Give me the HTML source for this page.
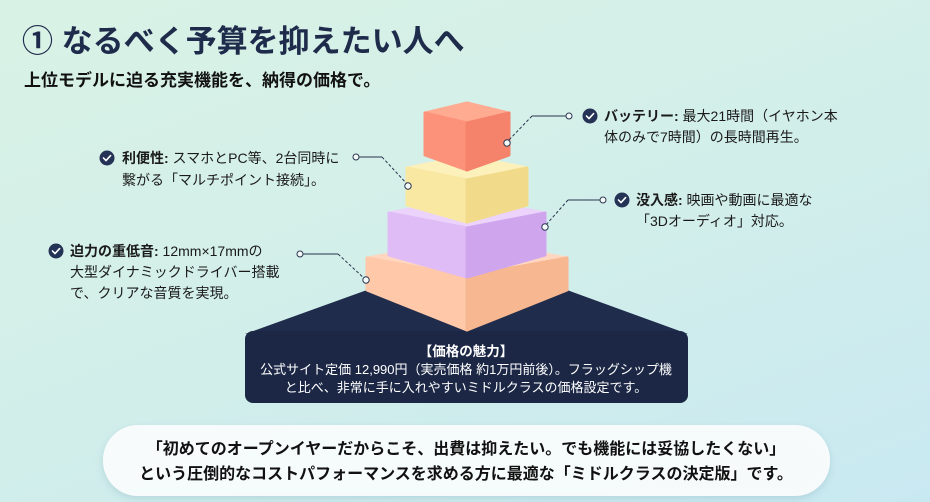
<!DOCTYPE html>
<html><head><meta charset="utf-8"><style>
html,body{margin:0;padding:0;}
body{width:930px;height:502px;overflow:hidden;background:linear-gradient(160deg,#d9f2e6 0%,#d3efe9 45%,#c9e9f2 100%);font-family:"Liberation Sans","Noto Sans CJK JP",sans-serif;}
svg{display:block}
</style></head><body>
<svg width="930" height="502" viewBox="0 0 930 502" xmlns="http://www.w3.org/2000/svg" font-family="Liberation Sans, Noto Sans CJK JP, sans-serif">
<defs>
<filter id="sh" x="-10%" y="-30%" width="120%" height="160%"><feDropShadow dx="0" dy="3" stdDeviation="4" flood-color="#7fa9b8" flood-opacity="0.35"/></filter>
<g id="chk"><circle r="7.5" fill="#243256"/><path d="M-3.5 0 L-1 2.6 L3.6 -2.4" stroke="#fff" stroke-width="1.6" fill="none" stroke-linecap="round" stroke-linejoin="round"/></g>
</defs>
<text x="22" y="52" font-size="31" font-weight="bold" fill="#1e2b4b">① なるべく予算を抑えたい人へ</text>
<text x="24" y="86" font-size="17" font-weight="bold" fill="#111">上位モデルに迫る充実機能を、納得の価格で。</text>

<!-- navy platform -->
<polygon points="245,334 367,290 467,330 567,290 688,334" fill="#1f2c4c"/>
<rect x="245" y="331" width="443" height="72" rx="8" fill="#1b2745"/>
<text x="466" y="356" font-size="13.5" font-weight="bold" fill="#fff" text-anchor="middle">【価格の魅力】</text>
<text x="466" y="374" font-size="13" fill="#fff" text-anchor="middle">公式サイト定価 12,990円（実売価格 約1万円前後）。フラッグシップ機</text>
<text x="466" y="392" font-size="13" fill="#fff" text-anchor="middle">と比べ、非常に手に入れやすいミドルクラスの価格設定です。</text>

<g stroke-linejoin="round" stroke-width="3">
<!-- peach -->
<polygon points="367,258 467,240 567,258 467,276" fill="#ffd7c0" stroke="#ffd7c0"/>
<polygon points="367,258 467,276 467,330 367,290" fill="#ffc8a8" stroke="#ffc8a8"/>
<polygon points="567,258 467,276 467,330 567,290" fill="#f7b790" stroke="#f7b790"/>
<!-- purple -->
<polygon points="389,213 467,198 545,213 467,228" fill="#ecd3fb" stroke="#ecd3fb"/>
<polygon points="389,213 467,228 467,277 389,255" fill="#dfbcf6" stroke="#dfbcf6"/>
<polygon points="545,213 467,228 467,277 545,255" fill="#cfa6ee" stroke="#cfa6ee"/>
<!-- yellow -->
<polygon points="407,168 467,156 527,168 467,180" fill="#fcf0bb" stroke="#fcf0bb"/>
<polygon points="407,168 467,180 467,222 407,205" fill="#f9e8a2" stroke="#f9e8a2"/>
<polygon points="527,168 467,180 467,222 527,205" fill="#f1db8b" stroke="#f1db8b"/>
<!-- coral -->
<polygon points="425,113 467,103 509,113 467,123" fill="#ffab92" stroke="#ffab92"/>
<polygon points="425,113 467,123 467,170 425,155" fill="#fc9279" stroke="#fc9279"/>
<polygon points="509,113 467,123 467,170 509,155" fill="#f5826a" stroke="#f5826a"/>
</g>

<!-- connectors -->
<g stroke="#2a3550" stroke-width="1" fill="none">
<line x1="359" y1="157" x2="382" y2="157"/><line x1="382" y1="157" x2="408" y2="185" stroke-dasharray="3,2"/>
<line x1="303" y1="254" x2="338" y2="254"/><line x1="338" y1="254" x2="366" y2="280" stroke-dasharray="3,2"/>
<line x1="566" y1="116" x2="532" y2="116"/><line x1="532" y1="116" x2="507" y2="142" stroke-dasharray="3,2"/>
<line x1="600" y1="200" x2="568" y2="200"/><line x1="568" y1="200" x2="545" y2="226" stroke-dasharray="3,2"/>
</g>
<g fill="#f4fbf9" stroke="#2a3550" stroke-width="1">
<circle cx="356" cy="157" r="3"/><circle cx="408" cy="186" r="3.2"/>
<circle cx="300" cy="254" r="3"/><circle cx="366" cy="280" r="3.2"/>
<circle cx="569" cy="116" r="3"/><circle cx="507" cy="143" r="3.2"/>
<circle cx="603" cy="200" r="3"/><circle cx="545" cy="227" r="3.2"/>
</g>

<!-- callouts -->
<use href="#chk" x="107" y="158"/>
<text font-size="14" fill="#1a1a1a"><tspan x="122" y="163"><tspan font-weight="bold">利便性:</tspan> スマホとPC等、2台同時に</tspan><tspan x="122" y="185">繋がる「マルチポイント接続」。</tspan></text>
<use href="#chk" x="56" y="251"/>
<text font-size="14" fill="#1a1a1a"><tspan x="70" y="256"><tspan font-weight="bold">迫力の重低音:</tspan> 12mm×17mmの</tspan><tspan x="70" y="277">大型ダイナミックドライバー搭載</tspan><tspan x="70" y="298">で、クリアな音質を実現。</tspan></text>
<use href="#chk" x="590" y="116"/>
<text font-size="14" fill="#1a1a1a"><tspan x="604" y="121"><tspan font-weight="bold">バッテリー:</tspan> 最大21時間（イヤホン本</tspan><tspan x="604" y="142">体のみで7時間）の長時間再生。</tspan></text>
<use href="#chk" x="622" y="200"/>
<text font-size="14" fill="#1a1a1a"><tspan x="636" y="205"><tspan font-weight="bold">没入感:</tspan> 映画や動画に最適な</tspan><tspan x="636" y="226">「3Dオーディオ」対応。</tspan></text>

<!-- bottom pill -->
<rect x="103" y="425" width="727" height="71" rx="35" fill="#fbfdfd" fill-opacity="0.93" filter="url(#sh)"/>
<text x="466" y="454" font-size="16" font-weight="bold" fill="#111" text-anchor="middle">「初めてのオープンイヤーだからこそ、出費は抑えたい。でも機能には妥協したくない」</text>
<text x="466" y="479" font-size="16" font-weight="bold" fill="#111" text-anchor="middle">という圧倒的なコストパフォーマンスを求める方に最適な「ミドルクラスの決定版」です。</text>
</svg>
</body></html>
